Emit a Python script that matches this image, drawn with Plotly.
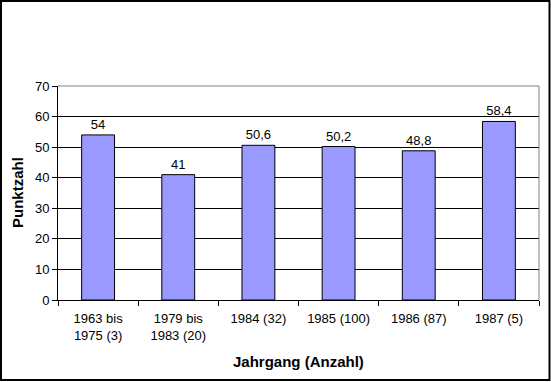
import plotly.graph_objects as go

categories = ["1963 bis<br>1975 (3)", "1979 bis<br>1983 (20)", "1984 (32)", "1985 (100)", "1986 (87)", "1987 (5)"]
values = [54, 41, 50.6, 50.2, 48.8, 58.4]
y_ticks = [0, 10, 20, 30, 40, 50, 60, 70]
x_title = "Jahrgang (Anzahl)"
y_title = "Punktzahl"

labels = [("%g" % v).replace(".", ",") for v in values]

W, H = 551, 382
L, R, T, B = 58, 12, 86, 82
pw, ph = W - L - R, H - T - B

fig = go.Figure(go.Bar(
    x=categories, y=values, text=labels, textposition="outside",
    textfont=dict(family="Liberation Sans, Arial", size=13, color="black"),
    marker=dict(color="#9999FF", line=dict(color="black", width=1)),
    cliponaxis=False,
))

def px2x(p):
    return (p - L) / pw

def px2y(p):
    return (H - B - p) / ph

fig.update_layout(
    width=W, height=H,
    margin=dict(l=L, r=R, t=T, b=B, pad=0),
    paper_bgcolor="white", plot_bgcolor="white",
    bargap=0.59, showlegend=False,
    font=dict(family="Liberation Sans, Arial", size=13, color="black"),
    xaxis=dict(
        type="category", showline=True, linecolor="black", linewidth=1,
        ticks="outside", tickson="boundaries", ticklen=5, tickcolor="black",
        showgrid=False, tickfont=dict(size=13), ticklabelstandoff=6,
    ),
    yaxis=dict(
        range=[0, 70], tickvals=y_ticks, showline=True, linecolor="black", linewidth=1,
        ticks="outside", ticklen=5, tickcolor="black",
        showgrid=True, gridcolor="black", gridwidth=1, zeroline=False,
        tickfont=dict(size=13),
    ),
    shapes=[
        dict(type="line", xref="paper", yref="paper", x0=0, x1=1, y0=1, y1=1,
             line=dict(color="#808080", width=1), layer="above"),
        dict(type="line", xref="paper", yref="paper", x0=1, x1=1, y0=0, y1=1,
             line=dict(color="#808080", width=1), layer="above"),
        dict(type="rect", xref="paper", yref="paper",
             x0=px2x(1), x1=px2x(549.5), y0=px2y(380), y1=px2y(1),
             line=dict(color="black", width=2), layer="above"),
    ],
    annotations=[
        dict(text="<b>" + x_title + "</b>", xref="paper", yref="paper",
             x=0.5, y=px2y(361), showarrow=False,
             font=dict(size=15), xanchor="center", yanchor="middle"),
        dict(text="<b>" + y_title + "</b>", xref="paper", yref="paper",
             x=px2x(17), y=0.5, showarrow=False, textangle=-90,
             font=dict(size=15), xanchor="center", yanchor="middle"),
    ],
)

fig.write_html("out.html", config={"displayModeBar": False},
               post_script="document.body.style.margin='0';")
